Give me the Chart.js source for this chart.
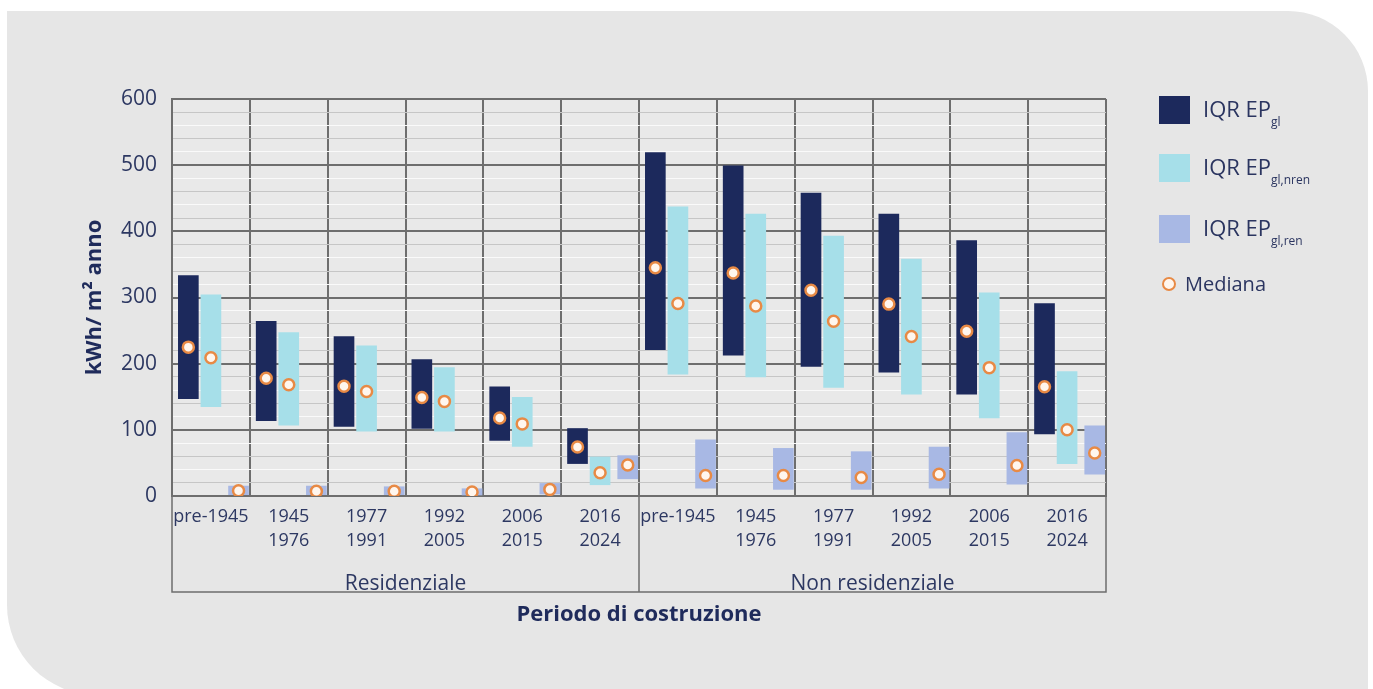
<!DOCTYPE html>
<html><head><meta charset="utf-8">
<script src="https://cdn.jsdelivr.net/npm/chart.js@4.4.1/dist/chart.umd.min.js"></script>
<style>
html,body{margin:0;padding:0;background:#fff;width:1373px;height:689px;overflow:hidden;font-family:"Open Sans",sans-serif;}
#panel{position:absolute;left:7px;top:11px;width:1361px;height:684px;background:#e6e6e6;border-radius:0 80px 0 90px;}
#c{position:absolute;left:0;top:0;}
#legend{position:absolute;left:0;top:0;width:1373px;height:689px;color:#2b3560;pointer-events:none;}
.box{position:absolute;left:1159px;width:31px;height:28px;}
.txt{position:absolute;left:1203px;font-size:22px;line-height:28px;white-space:nowrap;}
.txt sub{font-size:12px;vertical-align:-9px;line-height:0;}
.dot{position:absolute;left:1162px;width:10px;height:10px;border-radius:50%;border:2.5px solid #e88a45;background:#fff6ee;}
.mtxt{position:absolute;left:1185px;font-size:20px;line-height:28px;white-space:nowrap;}
</style></head>
<body>
<div id="panel"></div>
<canvas id="c" width="1373" height="689"></canvas>
<div id="legend"></div>
<script>
const categories = ['pre-1945',['1945','1976'],['1977','1991'],['1992','2005'],['2006','2015'],['2016','2024'],
                    'pre-1945',['1945','1976'],['1977','1991'],['1992','2005'],['2006','2015'],['2016','2024']];
const groups = ['Residenziale','Non residenziale'];
const yTicks = [0,100,200,300,400,500,600];

const glLow    = [147,114,105,102, 84, 49, 221,213,196,187,154, 94];
const glHigh   = [333,264,241,206,165,102, 519,499,458,426,386,291];
const glMed    = [225,178,166,149,118, 74, 345,337,311,290,249,165];
const nrenLow  = [135,107, 98, 98, 75, 17, 184,180,164,154,118, 49];
const nrenHigh = [304,247,227,194,149, 59, 437,426,393,358,307,188];
const nrenMed  = [209,168,158,143,109, 35, 291,287,264,241,194,100];
const renLow   = [  2,  2,  2,  0,  3, 26,  12, 10, 10, 12, 18, 33];
const renHigh  = [ 15, 15, 14, 11, 19, 61,  85, 72, 67, 74, 96,106];
const renMed   = [  8,  7,  7,  6, 10, 47,  31, 31, 28, 33, 46, 65];

const seriesLabels = ['IQR EPgl','IQR EPgl,nren','IQR EPgl,ren'];
const legendMain = ['IQR EP','IQR EP','IQR EP'];
const legendSub = ['gl','gl,nren','gl,ren'];
const medianLabel = 'Mediana';
const colors = ['#1c295c','#a6dfe9','#a8b8e4'];
const offsets = [-0.29, 0.0, 0.355];

const lows = [glLow, nrenLow, renLow];
const highs = [glHigh, nrenHigh, renHigh];
const meds = [glMed, nrenMed, renMed];

const datasets = [];
for (let s = 0; s < 3; s++) {
  datasets.push({
    type: 'bar', label: seriesLabels[s], xAxisID: 'xd', yAxisID: 'y',
    data: lows[s].map((lo, i) => ({x: i + offsets[s], y: [lo, highs[s][i]]})),
    backgroundColor: colors[s], borderWidth: 0, barThickness: 20, grouped: false, order: 2
  });
}
for (let s = 0; s < 3; s++) {
  datasets.push({
    type: 'line', label: medianLabel, xAxisID: 'xd', yAxisID: 'y', showLine: false,
    data: meds[s].map((m, i) => ({x: i + offsets[s], y: m})),
    pointStyle: 'circle', pointRadius: 5.5, pointBorderWidth: 2.5,
    pointBorderColor: '#e88a45', pointBackgroundColor: '#fff6ee', order: 0
  });
}

Chart.defaults.font.family = "'Open Sans', sans-serif";
const navy = '#2d3862';
const gridDark = '#6e6e6e';

const plotBg = {
  id: 'plotBg',
  beforeDraw(chart) {
    const {ctx, chartArea: a} = chart;
    ctx.save(); ctx.fillStyle = '#e9e9e9';
    ctx.fillRect(a.left, a.top, a.right - a.left, a.bottom - a.top);
    ctx.restore();
  }
};
const groupBox = {
  id: 'groupBox',
  afterDraw(chart) {
    const {ctx, chartArea: a} = chart;
    const x2 = chart.scales.x2;
    const yb = a.bottom + 96;
    const mid = (x2.getPixelForValue(0) + x2.getPixelForValue(1)) / 2;
    ctx.save(); ctx.strokeStyle = gridDark; ctx.lineWidth = 1.5;
    ctx.beginPath();
    ctx.moveTo(a.left, a.bottom); ctx.lineTo(a.left, yb); ctx.lineTo(a.right, yb); ctx.lineTo(a.right, a.bottom);
    ctx.moveTo(mid, a.bottom); ctx.lineTo(mid, yb);
    ctx.stroke(); ctx.restore();
  }
};

new Chart(document.getElementById('c'), {
  type: 'bar',
  data: { labels: categories, datasets },
  plugins: [plotBg, groupBox],
  options: {
    responsive: false, animation: false,
    layout: { padding: { left: 82, top: 99, right: 267, bottom: 61 } },
    plugins: { legend: { display: false }, tooltip: { enabled: false } },
    scales: {
      xd: { type: 'linear', min: -0.5, max: 11.5, display: false, offset: false, grid: {offset: false} },
      x: {
        type: 'category', position: 'bottom', offset: true,
        grid: { offset: true, color: gridDark, lineWidth: 2, drawTicks: false },
        border: { color: gridDark, width: 2 },
        ticks: { color: navy, font: { size: 18, lineHeight: 1.38 }, padding: 8, maxRotation: 0, autoSkip: false },
        afterFit(s) { s.height = 60; }
      },
      x2: {
        type: 'category', position: 'bottom', labels: groups, offset: true,
        grid: { display: false, drawTicks: false }, border: { display: false },
        ticks: { color: navy, font: { size: 21 }, padding: 15, maxRotation: 0 },
        title: { display: true, text: 'Periodo di costruzione', color: '#1f2b5b', font: { size: 22, weight: 'bold' }, padding: { top: 0, bottom: 0 } },
        afterFit(s) { s.height = 72; }
      },
      y: {
        min: 0, max: 600,
        afterBuildTicks(s) {
          const t = [];
          for (let v = 0; v <= 600; v += 20) t.push({ value: v });
          s.ticks = t;
        },
        ticks: { autoSkip: false, color: navy, font: { size: 21 }, padding: 15,
                 callback: v => yTicks.includes(v) ? String(v) : '' },
        grid: {
          drawTicks: false,
          color: c => (c.tick.value % 100 === 0) ? gridDark : ((c.tick.value % 40 === 20) ? '#c6c6c6' : '#fafafa'),
          lineWidth: c => (c.tick.value % 100 === 0) ? 2 : 1
        },
        border: { color: gridDark, width: 2 },
        title: { display: true, text: 'kWh/ m² anno', color: '#1f2b5b', font: { size: 22, weight: 'bold' }, padding: { top: 0, bottom: 0 } },
        afterFit(s) { s.width = 90; }
      }
    }
  }
});

// HTML legend built from the series
const leg = document.getElementById('legend');
const rowTops = [96, 154, 215];
for (let s = 0; s < 3; s++) {
  const b = document.createElement('div'); b.className = 'box';
  b.style.top = rowTops[s] + 'px'; b.style.background = colors[s]; leg.appendChild(b);
  const t = document.createElement('div'); t.className = 'txt'; t.style.top = (rowTops[s] - 2) + 'px';
  t.innerHTML = legendMain[s] + '<sub>' + legendSub[s] + '</sub>'; leg.appendChild(t);
}
const d = document.createElement('div'); d.className = 'dot'; d.style.top = '277px'; leg.appendChild(d);
const mt = document.createElement('div'); mt.className = 'mtxt'; mt.style.top = '270px'; mt.textContent = medianLabel; leg.appendChild(mt);
</script>
</body></html>
